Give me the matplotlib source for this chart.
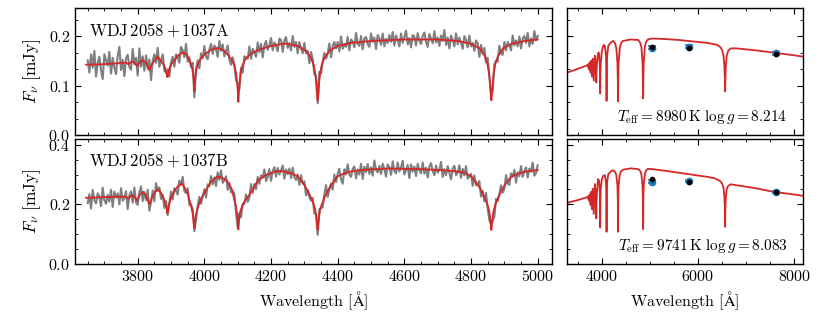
import numpy as np
import matplotlib
matplotlib.use("Agg")
import matplotlib.pyplot as plt
from matplotlib.ticker import MultipleLocator

# --- observed spectra (5 A sampling, values in uJy) ---
wave_obs = np.arange(3650, 5001, 5)

obs_a = np.array([
    151, 126, 163, 136, 170, 118, 145, 158, 131, 113,
    163, 151, 140, 168, 124, 156, 136, 123, 161, 178,
    131, 152, 119, 155, 162, 137, 132, 174, 143, 156,
    120, 175, 138, 159, 130, 161, 134, 153, 111, 150,
    163, 146, 176, 138, 151, 163, 130, 126, 133, 118,
    147, 158, 138, 163, 158, 146, 178, 171, 157, 184,
    148, 157, 137, 146, 76, 132, 151, 135, 165, 155,
    180, 158, 153, 173, 184, 164, 181, 174, 158, 190,
    170, 183, 159, 170, 181, 152, 142, 157, 142, 111,
    104, 92, 136, 126, 159, 157, 154, 179, 154, 174,
    167, 158, 187, 167, 184, 157, 181, 190, 172, 181,
    196, 171, 187, 180, 169, 195, 192, 168, 191, 198,
    176, 186, 171, 200, 178, 188, 165, 188, 175, 165,
    186, 165, 170, 145, 168, 153, 123, 119, 64, 128,
    124, 149, 166, 154, 164, 185, 157, 180, 188, 175,
    188, 169, 199, 174, 184, 178, 198, 171, 193, 189,
    177, 206, 184, 180, 200, 173, 195, 198, 184, 178,
    205, 188, 197, 174, 202, 195, 182, 205, 179, 194,
    186, 202, 188, 208, 181, 201, 192, 179, 205, 186,
    198, 211, 183, 196, 177, 202, 199, 181, 206, 190,
    184, 200, 207, 188, 178, 204, 195, 185, 210, 187,
    197, 180, 201, 190, 212, 182, 197, 175, 201, 192,
    179, 205, 183, 197, 186, 174, 200, 192, 177, 201,
    179, 186, 170, 191, 185, 158, 182, 164, 176, 147,
    156, 119, 82, 89, 143, 150, 148, 180, 165, 162,
    188, 171, 188, 181, 171, 201, 181, 191, 179, 199,
    175, 195, 200, 186, 206, 179, 195, 184, 210, 191,
    200]) / 1000.0

obs_b = np.array([
    204, 234, 186, 248, 215, 203, 237, 227, 194, 256,
    214, 202, 232, 209, 249, 191, 243, 223, 237, 200,
    254, 212, 220, 244, 184, 229, 243, 206, 256, 206,
    198, 240, 260, 211, 241, 214, 249, 179, 207, 246,
    210, 271, 245, 257, 218, 232, 188, 211, 164, 205,
    243, 216, 254, 245, 233, 280, 265, 292, 244, 238,
    254, 197, 199, 186, 110, 149, 196, 225, 202, 225,
    251, 223, 267, 261, 295, 267, 290, 261, 307, 282,
    314, 272, 281, 294, 249, 272, 240, 244, 236, 172,
    121, 171, 156, 202, 202, 233, 208, 223, 268, 238,
    268, 251, 292, 269, 297, 289, 317, 278, 292, 318,
    279, 311, 325, 293, 322, 300, 313, 330, 286, 317,
    301, 320, 288, 323, 291, 282, 300, 265, 298, 269,
    277, 230, 248, 224, 213, 222, 169, 166, 98, 184,
    187, 191, 234, 264, 225, 249, 269, 249, 300, 275,
    303, 319, 284, 269, 318, 300, 334, 299, 292, 319,
    327, 287, 317, 300, 336, 285, 326, 308, 335, 302,
    324, 296, 347, 315, 307, 329, 302, 336, 318, 293,
    334, 324, 299, 344, 312, 304, 340, 310, 323, 346,
    300, 314, 332, 288, 334, 310, 327, 295, 336, 315,
    304, 340, 303, 323, 290, 327, 338, 312, 298, 330,
    306, 317, 342, 292, 318, 297, 328, 306, 284, 320,
    329, 298, 307, 331, 289, 319, 297, 328, 286, 294,
    302, 262, 297, 264, 269, 278, 226, 245, 210, 238,
    186, 147, 131, 145, 159, 218, 211, 235, 264, 239,
    252, 298, 270, 265, 304, 292, 316, 273, 308, 294,
    328, 292, 311, 324, 290, 320, 309, 340, 296, 305,
    331]) / 1000.0

# --- model fits to the spectra ---
mod_wave_a = [3645, 3680, 3720, 3750, 3762, 3767, 3771, 3775, 3784, 3792, 3795, 3798, 3801, 3804,
              3815, 3826, 3831, 3835, 3839, 3844, 3860, 3869, 3877, 3882, 3885, 3887, 3889, 3891,
              3893, 3896, 3901, 3909, 3920, 3935, 3945, 3950, 3958, 3963, 3966, 3968, 3970, 3972,
              3974, 3977, 3982, 3990, 4005, 4020, 4040, 4055, 4067, 4082, 4090, 4095, 4098, 4100,
              4102, 4104, 4106, 4109, 4114, 4122, 4137, 4162, 4200, 4240, 4280, 4305, 4320, 4328,
              4333, 4336, 4338, 4340, 4342, 4344, 4347, 4352, 4360, 4375, 4400, 4440, 4500, 4600,
              4700, 4760, 4801, 4826, 4841, 4849, 4854, 4857, 4859, 4861, 4863, 4865, 4868, 4873,
              4881, 4896, 4921, 4961, 5000]
mod_flux_a = [0.142, 0.1425, 0.144, 0.1455, 0.1465, 0.145, 0.1435, 0.145, 0.1485, 0.145, 0.142,
              0.139, 0.142, 0.145, 0.151, 0.145, 0.138, 0.131, 0.138, 0.145, 0.158, 0.150, 0.143,
              0.136, 0.129, 0.122, 0.117, 0.122, 0.129, 0.136, 0.143, 0.150, 0.160, 0.167, 0.163,
              0.158, 0.146, 0.136, 0.124, 0.110, 0.088, 0.110, 0.124, 0.136, 0.146, 0.155, 0.165,
              0.172, 0.176, 0.172, 0.165, 0.152, 0.140, 0.126, 0.108, 0.091, 0.067, 0.091, 0.108,
              0.126, 0.140, 0.152, 0.163, 0.172, 0.180, 0.185, 0.180, 0.170, 0.156, 0.141, 0.123,
              0.103, 0.084, 0.070, 0.084, 0.103, 0.123, 0.141, 0.156, 0.170, 0.180, 0.186, 0.190,
              0.193, 0.193, 0.190, 0.184, 0.175, 0.160, 0.144, 0.125, 0.104, 0.085, 0.070, 0.085,
              0.104, 0.125, 0.144, 0.160, 0.175, 0.184, 0.190, 0.193]

mod_wave_b = [3645, 3700, 3745, 3760, 3767, 3771, 3775, 3784, 3790, 3795, 3798, 3801, 3806, 3817,
              3826, 3831, 3835, 3839, 3844, 3852, 3862, 3870, 3877, 3882, 3885, 3887, 3889, 3891,
              3893, 3896, 3901, 3909, 3920, 3932, 3940, 3950, 3958, 3963, 3966, 3968, 3970, 3972,
              3974, 3977, 3982, 3990, 4005, 4020, 4037, 4050, 4067, 4082, 4090, 4095, 4098, 4100,
              4102, 4104, 4106, 4109, 4114, 4122, 4137, 4162, 4190, 4220, 4240, 4260, 4280, 4290,
              4300, 4310, 4320, 4328, 4333, 4336, 4338, 4340, 4342, 4344, 4347, 4352, 4360, 4370,
              4380, 4390, 4400, 4420, 4440, 4480, 4550, 4650, 4720, 4760, 4780, 4800, 4810, 4820,
              4830, 4840, 4849, 4854, 4857, 4859, 4861, 4863, 4865, 4868, 4873, 4882, 4892, 4902,
              4912, 4922, 4940, 4960, 5000]
mod_flux_b = [0.222, 0.224, 0.2255, 0.226, 0.223, 0.219, 0.223, 0.230, 0.226, 0.218, 0.212, 0.220,
              0.232, 0.242, 0.226, 0.212, 0.201, 0.212, 0.226, 0.242, 0.250, 0.238, 0.222, 0.207,
              0.195, 0.183, 0.170, 0.183, 0.195, 0.208, 0.225, 0.243, 0.260, 0.270, 0.258, 0.236,
              0.205, 0.180, 0.162, 0.140, 0.1195, 0.140, 0.160, 0.175, 0.195, 0.218, 0.249, 0.275,
              0.2925, 0.290, 0.280, 0.252, 0.215, 0.190, 0.168, 0.146, 0.116, 0.146, 0.168, 0.180,
              0.195, 0.212, 0.235, 0.282, 0.301, 0.312, 0.310, 0.304, 0.294, 0.280, 0.265, 0.245,
              0.222, 0.199, 0.181, 0.158, 0.138, 0.114, 0.138, 0.158, 0.181, 0.199, 0.222, 0.245,
              0.265, 0.280, 0.294, 0.304, 0.310, 0.316, 0.320, 0.318, 0.314, 0.310, 0.306, 0.294,
              0.281, 0.266, 0.248, 0.224, 0.199, 0.181, 0.158, 0.138, 0.114, 0.138, 0.158, 0.181,
              0.199, 0.224, 0.248, 0.266, 0.281, 0.294, 0.302, 0.309, 0.315]

# --- model SEDs ---
sed_wave_a = [3275, 3400, 3500, 3600, 3680, 3712, 3721, 3728, 3734, 3742, 3750, 3760, 3771, 3784,
              3798, 3815, 3835, 3860, 3877, 3885, 3889, 3893, 3901, 3920, 3935, 3945, 3958, 3966,
              3970, 3974, 3982, 4005, 4040, 4067, 4090, 4098, 4102, 4106, 4114, 4137, 4200, 4240,
              4280, 4305, 4328, 4336, 4340, 4344, 4352, 4375, 4400, 4440, 4600, 4760, 4801, 4826,
              4849, 4857, 4861, 4865, 4873, 4896, 4921, 4961, 5050, 5300, 5600, 5900, 6200, 6400,
              6460, 6500, 6530, 6548, 6557, 6563, 6569, 6578, 6596, 6626, 6680, 6800, 7200, 7600,
              8000, 8200]
sed_flux_a = [0.126, 0.130, 0.1335, 0.137, 0.140, 0.142, 0.137, 0.143, 0.135, 0.145, 0.131, 0.147,
              0.126, 0.150, 0.118, 0.154, 0.110, 0.160, 0.143, 0.125, 0.106, 0.125, 0.143, 0.162,
              0.167, 0.163, 0.146, 0.124, 0.084, 0.124, 0.146, 0.170, 0.182, 0.180, 0.160, 0.130,
              0.069, 0.130, 0.160, 0.180, 0.188, 0.190, 0.185, 0.175, 0.145, 0.110, 0.068, 0.110,
              0.145, 0.175, 0.185, 0.190, 0.193, 0.192, 0.186, 0.177, 0.145, 0.108, 0.074, 0.108,
              0.145, 0.177, 0.188, 0.193, 0.195, 0.194, 0.192, 0.189, 0.186, 0.182, 0.178, 0.172,
              0.160, 0.140, 0.115, 0.088, 0.115, 0.140, 0.160, 0.170, 0.175, 0.175, 0.171, 0.166,
              0.161, 0.158]

sed_wave_b = [3275, 3400, 3500, 3600, 3680, 3712, 3721, 3728, 3734, 3742, 3750, 3760, 3771, 3784,
              3798, 3815, 3835, 3860, 3877, 3885, 3889, 3893, 3901, 3923, 3945, 3958, 3966, 3970,
              3974, 3982, 4005, 4030, 4067, 4090, 4098, 4102, 4106, 4114, 4137, 4200, 4240, 4280,
              4305, 4328, 4336, 4340, 4344, 4352, 4375, 4400, 4440, 4600, 4760, 4801, 4826, 4849,
              4857, 4861, 4865, 4873, 4896, 4921, 4961, 5050, 5300, 5600, 5900, 6200, 6350, 6460,
              6500, 6530, 6548, 6557, 6563, 6569, 6578, 6596, 6626, 6680, 6800, 7200, 7564, 8000,
              8200]
sed_flux_b = [0.205, 0.210, 0.214, 0.219, 0.223, 0.226, 0.219, 0.228, 0.216, 0.230, 0.210, 0.234,
              0.198, 0.242, 0.184, 0.252, 0.168, 0.268, 0.232, 0.200, 0.153, 0.200, 0.235, 0.285,
              0.280, 0.255, 0.218, 0.122, 0.218, 0.255, 0.285, 0.295, 0.298, 0.275, 0.225, 0.108,
              0.225, 0.275, 0.300, 0.312, 0.314, 0.308, 0.298, 0.262, 0.210, 0.108, 0.210, 0.262,
              0.298, 0.310, 0.316, 0.3206, 0.318, 0.312, 0.300, 0.262, 0.215, 0.117, 0.215, 0.262,
              0.300, 0.314, 0.319, 0.318, 0.313, 0.306, 0.299, 0.292, 0.287, 0.278, 0.270, 0.255,
              0.225, 0.190, 0.125, 0.190, 0.225, 0.250, 0.262, 0.267, 0.264, 0.254, 0.242, 0.233,
              0.228]

# --- photometry ---
phot_wave = [5040, 5815, 7620]
phot_obs_a = [0.1764, 0.1784, 0.1650]
phot_err_a = [0.003, 0.003, 0.003]
phot_syn_a = [0.1785, 0.1764, 0.1636]
phot_obs_b = [0.276, 0.278, 0.242]
phot_err_b = [0.004, 0.004, 0.004]
phot_syn_b = [0.284, 0.2735, 0.240]

names = ["WDJ$\\,2058+1037$A", "WDJ$\\,2058+1037$B"]
params = ["$T_{\\rm eff}=8980\\,{\\rm K}\\ \\log g=8.214$",
          "$T_{\\rm eff}=9741\\,{\\rm K}\\ \\log g=8.083$"]

plt.rcParams.update({
    "font.family": "serif",
    "font.serif": ["cmr10"],
    "mathtext.fontset": "cm",
    "axes.unicode_minus": False,
    "axes.formatter.use_mathtext": True,
    "font.size": 11.5,
    "axes.linewidth": 1.0,
    "xtick.direction": "in", "ytick.direction": "in",
    "xtick.top": True, "ytick.right": True,
    "xtick.major.size": 4, "ytick.major.size": 4,
    "xtick.minor.size": 2, "ytick.minor.size": 2,
    "xtick.minor.visible": True, "ytick.minor.visible": True,
})

fig = plt.figure(figsize=(8.3, 3.12), dpi=100)
ax_ta = fig.add_axes([0.0904, 0.5673, 0.5743, 0.4061])
ax_ba = fig.add_axes([0.0904, 0.1538, 0.5743, 0.3997])
ax_tb = fig.add_axes([0.6828, 0.5673, 0.2847, 0.4061])
ax_bb = fig.add_axes([0.6828, 0.1538, 0.2847, 0.3997])

grey = "#7f7f7f"
red = "#d62728"
blue = "#1f77b4"

rows = [
    (ax_ta, ax_tb, obs_a, mod_wave_a, mod_flux_a, sed_wave_a, sed_flux_a,
     phot_obs_a, phot_err_a, phot_syn_a, 0.256, 0.1, 3),
    (ax_ba, ax_bb, obs_b, mod_wave_b, mod_flux_b, sed_wave_b, sed_flux_b,
     phot_obs_b, phot_err_b, phot_syn_b, 0.418, 0.2, 4),
]

for k, (axl, axr, obs, mw, mf, sw, sf, po, pe, ps, ytop, ymaj, ndiv) in enumerate(rows):
    axl.plot(wave_obs, obs, color=grey, lw=1.5, zorder=1)
    axl.plot(mw, mf, color=red, lw=1.3, zorder=2)
    axl.set_xlim(3612, 5042)
    axl.set_ylim(0, ytop)
    axl.xaxis.set_major_locator(MultipleLocator(200))
    axl.xaxis.set_minor_locator(MultipleLocator(50))
    axl.yaxis.set_major_locator(MultipleLocator(ymaj))
    axl.yaxis.set_minor_locator(MultipleLocator(ymaj / ndiv))
    axl.set_ylabel("$F_\\nu\\ [\\mathrm{mJy}]$", fontsize=12.5)
    axl.text(0.03, 0.9, names[k], transform=axl.transAxes, ha="left", va="top",
             fontsize=12)

    axr.plot(sw, sf, color=red, lw=1.3, zorder=1)
    axr.errorbar(phot_wave, po, yerr=pe, fmt="o", color=blue, ms=4.5, capsize=3,
                 elinewidth=1.2, capthick=1.2, zorder=2)
    axr.scatter(phot_wave, ps, color="black", s=9, zorder=3)
    axr.set_xlim(3275, 8180)
    axr.set_ylim(0, ytop)
    axr.xaxis.set_major_locator(MultipleLocator(2000))
    axr.xaxis.set_minor_locator(MultipleLocator(500))
    axr.yaxis.set_major_locator(MultipleLocator(ymaj))
    axr.yaxis.set_minor_locator(MultipleLocator(ymaj / ndiv))
    axr.tick_params(labelleft=False)
    axr.text(0.935, 0.07, params[k], transform=axr.transAxes, ha="right", va="bottom",
             fontsize=11)

for ax in (ax_ta, ax_tb):
    ax.tick_params(labelbottom=False)

ax_ba.set_xlabel("Wavelength [$\\mathrm{\\AA}$]")
ax_bb.set_xlabel("Wavelength [$\\mathrm{\\AA}$]")

fig.savefig("out.png", dpi=100)
